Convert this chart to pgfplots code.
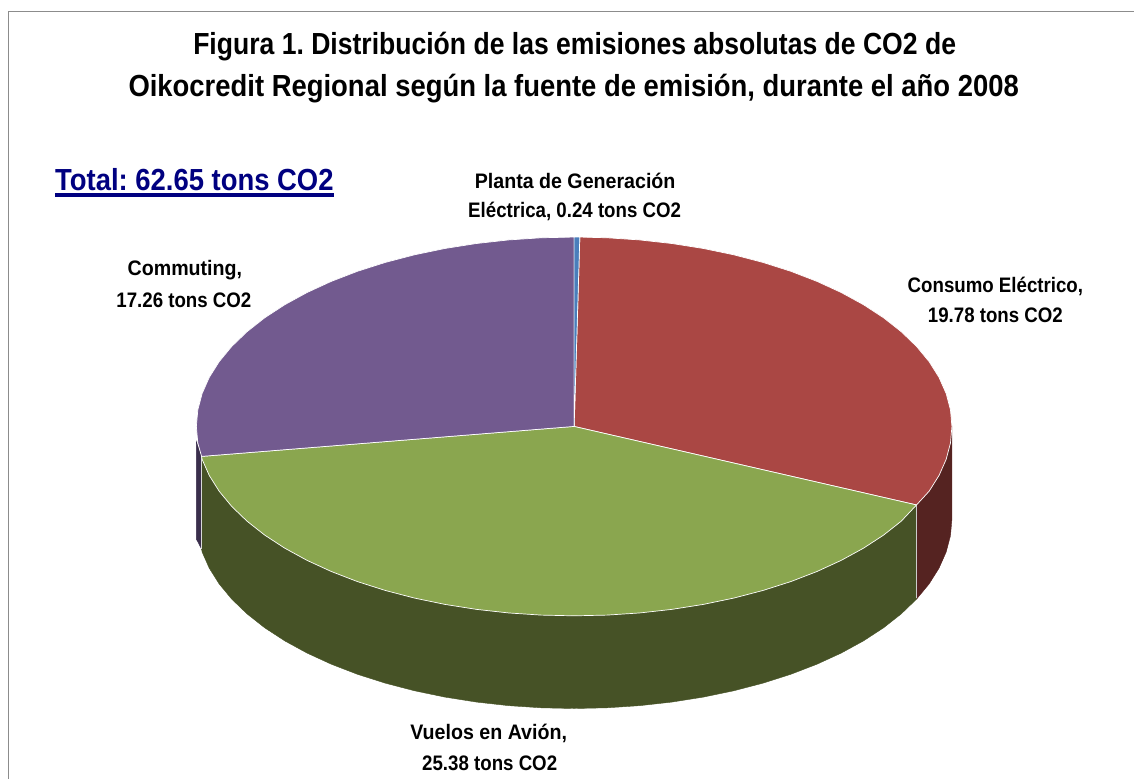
\documentclass[border=0pt]{standalone}
\usepackage{pgfplots}
\pgfplotsset{compat=1.18}
\usepackage{fontspec}
\setmainfont{Liberation Sans}
\newfontfamily\nb[FakeStretch=0.89]{Liberation Sans Bold}
\newfontfamily\nbc[FakeStretch=0.935]{Liberation Sans Bold}
\newfontfamily\nba[FakeStretch=0.871]{Liberation Sans Bold}
\newfontfamily\nbb[FakeStretch=0.90]{Liberation Sans Bold}
\frenchspacing
\definecolor{cred}{HTML}{AA4744}
\definecolor{cgreen}{HTML}{8AA64F}
\definecolor{cpurple}{HTML}{725A8F}
\definecolor{cblue}{HTML}{4A7EBB}
\definecolor{dred}{HTML}{552321}
\definecolor{dgreen}{HTML}{465226}
\definecolor{dpurple}{HTML}{3A2E4C}
\definecolor{cborder}{HTML}{8C8C8C}
\definecolor{tnavy}{HTML}{000080}
\newcommand\lbl[4][black]{\node[text=#1,inner sep=0pt,anchor=base] at (rel axis cs:{#2/1135},{1-#3/779}) {#4};}
\begin{document}
\begin{tikzpicture}
\begin{axis}[
  scale only axis, width=1135pt, height=779pt,
  xmin=-1.5198, xmax=1.4828, ymin=-1.8591, ymax=2.2517,
  hide axis, clip=false,
]
\path (rel axis cs:0,0) rectangle (rel axis cs:1,1);
% walls
\addplot[fill=dred, draw=dred, line width=0.4pt] coordinates {
 (1,0) (1,-.4895) (.9962,-.5767) (.9848,-.6631) (.9659,-.7483) (.9397,-.8315) (.9063,-.9121) (.9063,-.4146)
} -- cycle;
\addplot[fill=dpurple, draw=dpurple, line width=0.4pt] coordinates {
 (-.9862,-.1583) (-.9862,-.6478) (-1,-.595) (-1,-.08)
} -- cycle;
\addplot[fill=dgreen, draw=dgreen, line width=0.4pt] coordinates {
 (.9063,-.4146) (.9063,-.9121) (.8660,-.9895) (.8192,-1.0631) (.7660,-1.1323) (.7071,-1.1966) (.6428,-1.2555)
 (.5736,-1.3087) (.5,-1.3555) (.4226,-1.3958) (.3420,-1.4292) (.2588,-1.4554) (.1736,-1.4743) (.0872,-1.4857)
 (0,-1.4895) (-.0872,-1.4857) (-.1736,-1.4743) (-.2588,-1.4554) (-.3420,-1.4292) (-.4226,-1.3958) (-.5,-1.3555)
 (-.5736,-1.3087) (-.6428,-1.2555) (-.7071,-1.1966) (-.7660,-1.1323) (-.8192,-1.0631) (-.8660,-.9895)
 (-.9063,-.9121) (-.9397,-.8315) (-.9659,-.7483) (-.9848,-.6631) (-.9862,-.6478) (-.9862,-.1583)
} -- cycle;
% wall separators
\addplot[draw=white!80!black, line width=1.2pt] coordinates {(.9063,-.4146) (.9063,-.9040)};
\addplot[draw=white!85!black, line width=0.9pt] coordinates {(-.9862,-.1583) (-.9862,-.6478)};
% top faces
\addplot[fill=cred, draw=white, line width=0.7pt] coordinates {
 (0,0) (.015,.9999) (.0872,.9962) (.1736,.9848) (.2588,.9659) (.3420,.9397) (.4226,.9063) (.5,.8660) (.5736,.8192)
 (.6428,.7660) (.7071,.7071) (.7660,.6428) (.8192,.5736) (.8660,.5) (.9063,.4226) (.9397,.3420) (.9659,.2588)
 (.9848,.1736) (.9962,.0872) (1,0) (.9962,-.0872) (.9848,-.1736) (.9659,-.2588) (.9397,-.3420) (.9063,-.4146)
} -- cycle;
\addplot[fill=cgreen, draw=white, line width=0.7pt] coordinates {
 (0,0) (.9063,-.4146) (.8660,-.5) (.8192,-.5736) (.7660,-.6428) (.7071,-.7071) (.6428,-.7660) (.5736,-.8192)
 (.5,-.8660) (.4226,-.9063) (.3420,-.9397) (.2588,-.9659) (.1736,-.9848) (.0872,-.9962) (0,-1) (-.0872,-.9962)
 (-.1736,-.9848) (-.2588,-.9659) (-.3420,-.9397) (-.4226,-.9063) (-.5,-.8660) (-.5736,-.8192) (-.6428,-.7660)
 (-.7071,-.7071) (-.7660,-.6428) (-.8192,-.5736) (-.8660,-.5) (-.9063,-.4226) (-.9397,-.3420) (-.9659,-.2588)
 (-.9848,-.1736) (-.9862,-.1583)
} -- cycle;
\addplot[fill=cpurple, draw=white, line width=0.7pt] coordinates {
 (0,0) (-.9862,-.1583) (-.9962,-.0872) (-1,0) (-.9962,.0872) (-.9848,.1736) (-.9659,.2588) (-.9397,.3420)
 (-.9063,.4226) (-.8660,.5) (-.8192,.5736) (-.7660,.6428) (-.7071,.7071) (-.6428,.7660) (-.5736,.8192) (-.5,.8660)
 (-.4226,.9063) (-.3420,.9397) (-.2588,.9659) (-.1736,.9848) (-.0872,.9962) (0,1)
} -- cycle;
\addplot[fill=cblue, draw=white, line width=0.7pt] coordinates {(0,0) (0,1) (.015,.9999)} -- cycle;
% frame
\draw[cborder, line width=1.4pt] (rel axis cs:{8.5/1135},0) -- (rel axis cs:{8.5/1135},{1-11.8/779}) -- (rel axis cs:1,{1-11.8/779});
% title
\lbl{575}{55}{\fontsize{30.5}{30.5}\selectfont\nba Figura 1. Distribución de las emisiones absolutas de CO2 de}
\lbl{574}{97}{\fontsize{30.5}{30.5}\selectfont\nbb Oikocredit Regional según la fuente de emisión, durante el año 2008}
% total
\lbl[tnavy]{194.5}{191}{\fontsize{30.5}{30.5}\selectfont\nbb Total: 62.65 tons CO2}
\fill[tnavy] (rel axis cs:{55/1135},{1-193.5/779}) rectangle (rel axis cs:{334.5/1135},{1-197/779});
% labels
\lbl{575.5}{189}{\fontsize{21}{21}\selectfont\nbc Planta de Generación}
\lbl{575}{218}{\fontsize{21}{21}\selectfont\nb Eléctrica, 0.24 tons CO2}
\lbl{996}{293}{\fontsize{21}{21}\selectfont\nb Consumo Eléctrico,}
\lbl{996}{323}{\fontsize{21}{21}\selectfont\nb 19.78 tons CO2}
\lbl{185}{276}{\fontsize{21}{21}\selectfont\nbc Commuting,}
\lbl{184}{308}{\fontsize{21}{21}\selectfont\nb 17.26 tons CO2}
\lbl{489}{740}{\fontsize{21}{21}\selectfont\nbc Vuelos en Avión,}
\lbl{490}{771}{\fontsize{21}{21}\selectfont\nb 25.38 tons CO2}
\end{axis}
\end{tikzpicture}
\end{document}
